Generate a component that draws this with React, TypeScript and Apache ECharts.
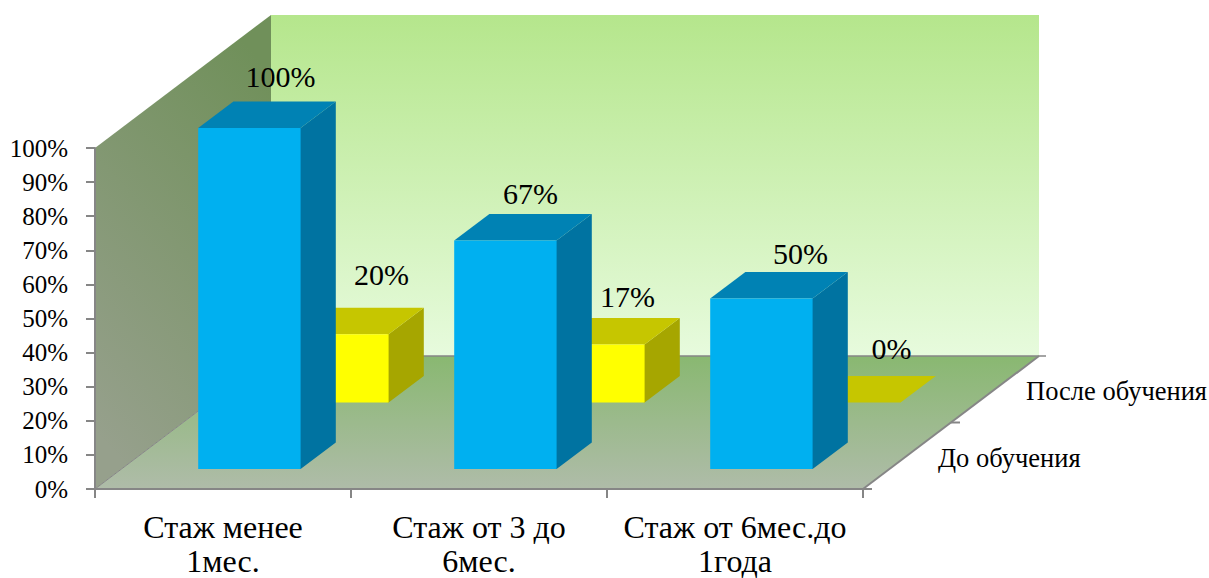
import React, { useEffect, useRef } from "react";
import * as echarts from "echarts";

const categories = ["Стаж менее\n1мес.", "Стаж от 3 до\n6мес.", "Стаж от 6мес.до\n1года"];
const depthLabels = ["До обучения", "После обучения"];
const beforeTraining = [100, 67, 50];
const afterTraining = [20, 17, 0];
const valueTicks = [0, 10, 20, 30, 40, 50, 60, 70, 80, 90, 100];

// Oblique projection of the depth axis, in pixels for the full floor depth.
const DEPTH_X = 176;
const DEPTH_Y = 133;
const BAR_DEPTH = 0.2;
const BAR_WIDTH = 0.4;

// Label nudges per bar, relative to the centre of the bar's rear top edge.
const LABEL_SHIFT_BEFORE = [[-4, -25], [-10, -20], [4, -18]];
const LABEL_SHIFT_AFTER = [[9, -33], [-1, -21], [7, -27]];

const SERIF = "'Liberation Serif', 'Times New Roman', serif";
const AXIS_GRAY = "#868686";

const vertical = (top: string, bottom: string) =>
  new echarts.graphic.LinearGradient(0, 0, 0, 1, [
    { offset: 0, color: top },
    { offset: 1, color: bottom },
  ]);

const line = (x1: number, y1: number, x2: number, y2: number, width = 1.5) => ({
  type: "line",
  shape: { x1, y1, x2, y2 },
  style: { stroke: AXIS_GRAY, lineWidth: width },
});

// Back wall, side wall, floor and the depth axis, all placed from the grid's own scales.
function renderRoom(_params: any, api: any) {
  const band = api.size([1, 0])[0];
  const [firstX, y0] = api.coord([0, 0]);
  const [, y100] = api.coord([0, 100]);
  const [lastX] = api.coord([categories.length - 1, 0]);
  const left = firstX - band / 2;
  const right = lastX + band / 2;
  const back = (x: number, y: number) => [x + DEPTH_X, y - DEPTH_Y];

  const children: any[] = [
    {
      type: "polygon",
      shape: { points: [back(left, y100), back(right, y100), back(right, y0), back(left, y0)] },
      style: { fill: vertical("#b5e68c", "#e7fbdd") },
    },
    {
      type: "polygon",
      shape: { points: [[left, y100], back(left, y100), back(left, y0), [left, y0]] },
      style: {
        fill: new echarts.graphic.LinearGradient(0.7, 0, 0.3, 1, [
          { offset: 0, color: "#70905a" },
          { offset: 1, color: "#96a08c" },
        ]),
      },
    },
    {
      type: "polygon",
      shape: { points: [[left, y0], back(left, y0), back(right, y0), [right, y0]] },
      style: { fill: vertical("#89b871", "#afbca9") },
    },
    line(left, y0, ...(back(left, y0) as [number, number]), 1),
    line(back(left, y0)[0], back(left, y0)[1], back(right, y0)[0] + 7, back(right, y0)[1], 1.5),
    line(right, y0, ...(back(right, y0) as [number, number]), 2),
    line(right, y0, right + 9, y0, 2),
    line(right + DEPTH_X / 2, y0 - DEPTH_Y / 2, right + DEPTH_X / 2 + 9, y0 - DEPTH_Y / 2, 2),
  ];

  depthLabels.forEach((text, i) => {
    const f = 0.25 + i * 0.5;
    children.push({
      type: "text",
      x: right + DEPTH_X * f + 31,
      y: y0 - DEPTH_Y * f + 2,
      style: {
        text,
        fontFamily: SERIF,
        fontSize: 26.5,
        fill: "#000",
        align: "left",
        verticalAlign: "middle",
      },
    });
  });
  return { type: "group", children };
}

// One oblique box: rear, top and side faces, plus the value label above it.
function boxRenderer(
  depthStart: number,
  front: string,
  top: string,
  side: string,
  shifts: number[][],
) {
  return (params: any, api: any) => {
    const index = api.value(0);
    const value = api.value(1);
    const band = api.size([1, 0])[0];
    const half = (band * BAR_WIDTH) / 2;
    const [cx, yTop] = api.coord([index, value]);
    const [, yBottom] = api.coord([index, 0]);
    const ox = DEPTH_X * depthStart;
    const oy = DEPTH_Y * depthStart;
    const dx = DEPTH_X * BAR_DEPTH;
    const dy = DEPTH_Y * BAR_DEPTH;
    const x0 = cx + ox - half;
    const x1 = cx + ox + half;
    const yt = yTop - oy;
    const yb = yBottom - oy;
    const shift = shifts[params.dataIndex];
    const children: any[] = [
      {
        // The side face starts a pixel under the front face so no seam shows between them.
        type: "polygon",
        shape: { points: [[x1 - 1, yt], [x1, yt], [x1 + dx, yt - dy], [x1 + dx, yb - dy], [x1, yb], [x1 - 1, yb]] },
        style: { fill: side },
      },
      {
        type: "polygon",
        shape: { points: [[x0, yt], [x0 + dx, yt - dy], [x1 + dx, yt - dy], [x1, yt]] },
        style: { fill: top },
      },
      {
        type: "rect",
        shape: { x: x0, y: yt, width: x1 - x0, height: yb - yt },
        style: { fill: front },
      },
      {
        type: "text",
        x: (x0 + x1) / 2 + dx + shift[0],
        y: yt - dy + shift[1],
        style: {
          text: `${value}%`,
          fontFamily: SERIF,
          fontSize: 30,
          fill: "#000",
          align: "center",
          verticalAlign: "middle",
        },
      },
    ];
    return { type: "group", children };
  };
}

export default function App() {
  const ref = useRef<HTMLDivElement>(null);

  useEffect(() => {
    const chart = echarts.init(ref.current!, null, { renderer: "svg" });
    chart.setOption({
      animation: false,
      backgroundColor: "#fff",
      grid: { left: 95, right: 346, top: 148, bottom: 89, outerBoundsMode: "none" },
      xAxis: {
        type: "category",
        data: categories,
        z: 6,
        axisLine: { lineStyle: { color: AXIS_GRAY, width: 2 } },
        axisTick: { show: true, length: 9, lineStyle: { color: AXIS_GRAY, width: 2 } },
        axisLabel: {
          fontFamily: SERIF,
          fontSize: 32,
          color: "#000",
          lineHeight: 34,
          margin: 21,
          interval: 0,
        },
      },
      yAxis: {
        type: "value",
        min: valueTicks[0],
        max: valueTicks[valueTicks.length - 1],
        interval: 10,
        z: 6,
        splitLine: { show: false },
        axisLine: { show: true, lineStyle: { color: AXIS_GRAY, width: 2 } },
        axisTick: { show: true, length: 9, lineStyle: { color: AXIS_GRAY, width: 2 } },
        axisLabel: {
          fontFamily: SERIF,
          fontSize: 25,
          color: "#000",
          margin: 27,
          formatter: "{value}%",
        },
      },
      series: [
        {
          type: "custom",
          name: "room",
          z: 1,
          silent: true,
          renderItem: renderRoom,
          data: [[0, 0]],
          encode: { x: 0, y: 1 },
        },
        {
          type: "custom",
          name: depthLabels[1],
          z: 2,
          renderItem: boxRenderer(0.65, "#ffff00", "#c6c600", "#a6a600", LABEL_SHIFT_AFTER),
          data: afterTraining.map((v, i) => [i, v]),
          encode: { x: 0, y: 1 },
        },
        {
          type: "custom",
          name: depthLabels[0],
          z: 3,
          renderItem: boxRenderer(0.15, "#00b0f0", "#0082b4", "#0073a1", LABEL_SHIFT_BEFORE),
          data: beforeTraining.map((v, i) => [i, v]),
          encode: { x: 0, y: 1 },
        },
      ],
    });
    return () => chart.dispose();
  }, []);

  return (
    <div
      ref={ref}
      style={{ position: "absolute", left: 0, top: 0, width: 1209, height: 578 }}
    />
  );
}
